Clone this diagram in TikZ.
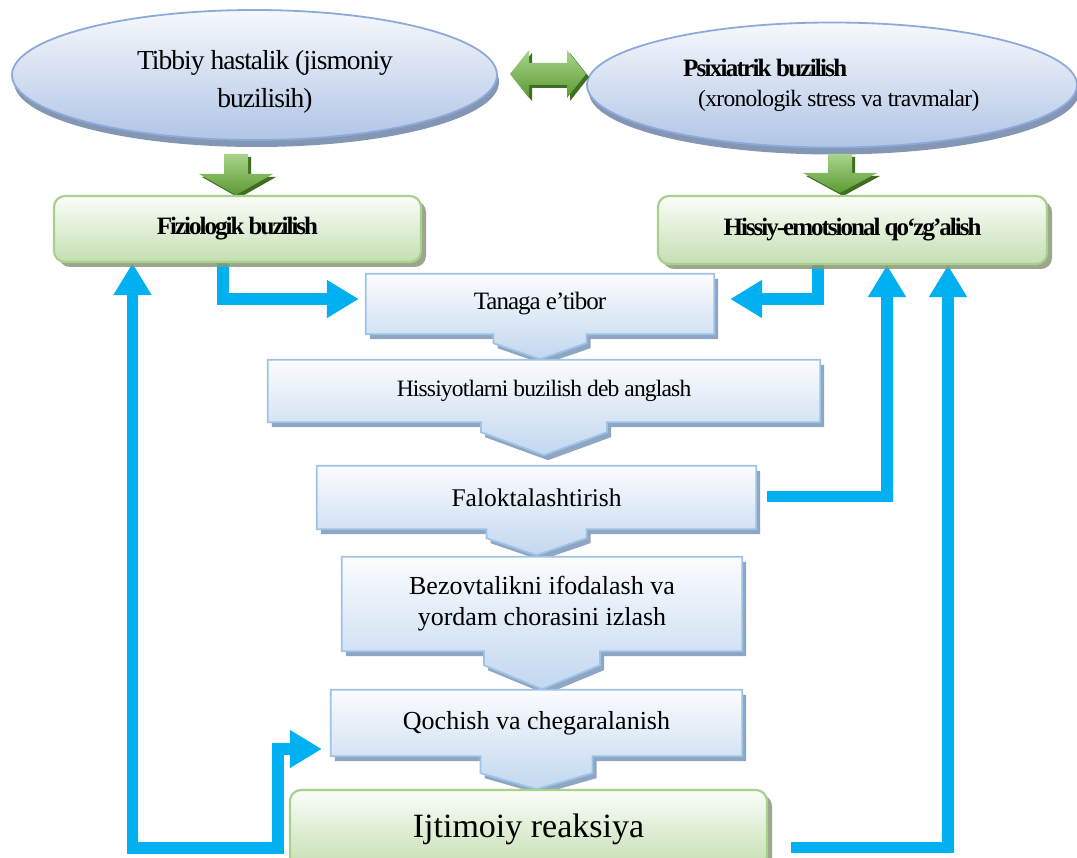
\documentclass[tikz,border=0pt]{standalone}
\usepackage{fontspec}
\setmainfont{Liberation Serif}
\usetikzlibrary{arrows.meta,shapes.geometric,shadows}
\pgfdeclarelayer{conn}
\pgfdeclarelayer{back}
\pgfsetlayers{conn,back,main}
\definecolor{cyanc}{HTML}{00B0F0}
\definecolor{bborder}{HTML}{9DC3E6}
\definecolor{btop}{HTML}{FBFCFE}
\definecolor{bbot}{HTML}{C2D7EF}
\definecolor{bshadowc}{HTML}{8FA6C3}
\definecolor{gborder}{HTML}{A9D18E}
\definecolor{gtop}{HTML}{FBFDF9}
\definecolor{gbot}{HTML}{C4DFB2}
\definecolor{gshadowc}{HTML}{8C9679}
\definecolor{etop}{HTML}{F6F8FC}
\definecolor{ebot}{HTML}{B1C5E6}
\definecolor{eborder}{HTML}{8EAADB}
\definecolor{eshadowc}{HTML}{8396B3}
\definecolor{atop}{HTML}{A9D48C}
\definecolor{abot}{HTML}{5C9A33}
\definecolor{ashadow}{HTML}{3F6D21}
\newcommand\fsz[2]{\fontsize{#1}{#2}\selectfont}
\newcommand\chevbox[4]{%
  \path[chev] (#1.north west) -- (#1.north east) -- (#1.south east)
    -- ([xshift=#2]#1.south) -- ([xshift=#2,yshift=-#3]#1.south)
    -- ([yshift=-#4]#1.south)
    -- ([xshift=-#2,yshift=-#3]#1.south) -- ([xshift=-#2]#1.south)
    -- (#1.south west) -- cycle;}
\begin{document}
\begin{tikzpicture}[x=1pt,y=-1pt,
  txt/.style={inner sep=0pt, text=black},
  ell/.style={ellipse, inner sep=0pt, draw=eborder, line width=1.8pt,
    top color=etop, bottom color=ebot,
    drop shadow={shadow xshift=2pt,shadow yshift=-7pt,fill=eshadowc,opacity=1}},
  gbox/.style={rectangle, rounded corners=11pt, inner sep=0pt, draw=gborder,
    line width=2.2pt, top color=gtop, bottom color=gbot,
    drop shadow={shadow xshift=5pt,shadow yshift=-5pt,fill=gshadowc,opacity=0.85}},
  bnode/.style={rectangle, inner sep=0pt, align=center},
  chev/.style={draw=bborder, line width=1.8pt, top color=btop, bottom color=bbot,
    drop shadow={shadow xshift=4pt,shadow yshift=-5pt,fill=bshadowc,opacity=1}},
  garrow/.style={top color=atop, bottom color=abot,
    drop shadow={shadow xshift=3pt,shadow yshift=-3pt,fill=ashadow,opacity=1}},
  link/.style={draw=cyanc, line width=11.5pt, line join=miter,
    -{Triangle[width=36pt,length=32pt]}},
  link2/.style={draw=cyanc, line width=11.5pt, line join=miter,
    {Triangle[width=36pt,length=32pt]}-{Triangle[width=36pt,length=32pt]}}
]
\useasboundingbox (0,0) rectangle (1077,858);
\begin{pgfonlayer}{conn}
\fill[white] (0,0) rectangle (1077,858);
\end{pgfonlayer}

% ellipses
\node[ell, minimum width=485pt, minimum height=130pt] (e1) at (254.5,75) {};
\node[txt, align=center, font=\fsz{27.5}{38}\addfontfeature{LetterSpace=-3.5}] (te1) at (265,82)
  {Tibbiy hastalik (jismoniy\\buzilisih)};
\node[ell, minimum width=490pt, minimum height=125pt] (e2) at (832,85) {};
\node[txt, anchor=west, font=\bfseries\fsz{25}{28}\addfontfeature{LetterSpace=-7}] (te2a) at (683,68)
  {Psixiatrik buzilish};
\node[txt, anchor=west, font=\fsz{23.5}{28}\addfontfeature{LetterSpace=-3}] (te2b) at (698,101)
  {(xronologik stress va travmalar)};

% green block arrows
\path[garrow] (510,74) -- (529,50) -- (529,63) -- (567,63) -- (567,50) -- (586,74)
  -- (567,98) -- (567,85) -- (529,85) -- (529,98) -- cycle;
\path[garrow] (224,154) -- (248,154) -- (248,174) -- (273,174) -- (236,195)
  -- (199,174) -- (224,174) -- cycle;
\path[garrow] (828,154) -- (852,154) -- (852,173) -- (877,173) -- (840,193)
  -- (803,173) -- (828,173) -- cycle;

% green boxes
\node[gbox, minimum width=367pt, minimum height=66pt,
  font=\bfseries\fsz{25}{28}\addfontfeature{LetterSpace=-8}] (g1) at (237.5,229) {Fiziologik buzilish};
\node[gbox, minimum width=389pt, minimum height=68pt,
  font=\bfseries\fsz{25}{28}\addfontfeature{LetterSpace=-8}] (g2) at (852.5,230) {Hissiy-emotsional qo‘zg’alish};

% process boxes
\node[bnode, minimum width=348pt, minimum height=60pt,
  font=\fsz{25}{28}\addfontfeature{LetterSpace=-4}] (b1) at (540,304) {Tanaga e’tibor};
\node[bnode, minimum width=552pt, minimum height=62pt,
  font=\fsz{23.5}{28}\addfontfeature{LetterSpace=-3.5}] (b2) at (544,391) {Hissiyotlarni buzilish deb anglash};
\node[bnode, minimum width=439pt, minimum height=63pt,
  font=\fsz{25.5}{30}] (b3) at (536.5,497.5) {Faloktalashtirish};
\node[bnode, minimum width=400pt, minimum height=94pt,
  font=\fsz{26}{31}] (b4) at (542,604) {Bezovtalikni ifodalash va\\yordam chorasini izlash};
\node[bnode, minimum width=411pt, minimum height=66pt,
  font=\fsz{26}{30}] (b5) at (536.5,723) {Qochish va chegaralanish};

\node[gbox, minimum width=477pt, minimum height=78pt, font=\fsz{34}{40}] (r1) at (528.5,829) {Ijtimoiy reaksiya};

\begin{pgfonlayer}{back}
\chevbox{b1}{46.5pt}{9pt}{25pt}
\chevbox{b2}{63pt}{10pt}{33pt}
\chevbox{b3}{50pt}{9pt}{26pt}
\chevbox{b4}{58pt}{14pt}{38pt}
\chevbox{b5}{56pt}{17pt}{33pt}
\end{pgfonlayer}

% connectors
\coordinate (k1) at (278,848);
\begin{pgfonlayer}{conn}
\draw[link] ([xshift=-14.5pt]g1.south) |- ([xshift=-7pt,yshift=5pt]b1.west);
\draw[link] ([xshift=-34.5pt]g2.south) |- ([xshift=16pt,yshift=5pt]b1.east);
\draw[link] ([xshift=11pt,yshift=1pt]b3.east) -| ([xshift=34.5pt]g2.south);
\draw[link] ([xshift=23pt,yshift=-18.5pt]r1.east) -| ([xshift=95.5pt]g2.south);
\draw[link2] ([xshift=-105pt]g1.south) |- (k1) |- ([xshift=-9pt,yshift=-26pt]b5.west);
\end{pgfonlayer}
\end{tikzpicture}
\end{document}
